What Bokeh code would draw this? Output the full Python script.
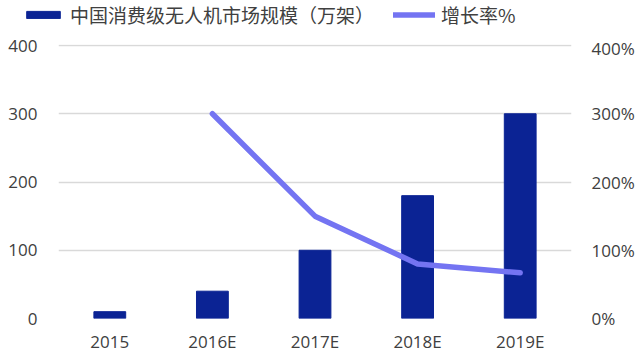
from bokeh.plotting import figure
from bokeh.layouts import column, row
from bokeh.models import (ColumnDataSource, Range1d, LinearAxis, FixedTicker,
                          NumeralTickFormatter, Legend, LegendItem)
from bokeh.embed import file_html
from bokeh.resources import INLINE

years = ["2015", "2016E", "2017E", "2018E", "2019E"]
market = [10, 40, 100, 180, 300]           # 万架
growth_years = ["2016E", "2017E", "2018E", "2019E"]
growth = [3.00, 1.50, 0.80, 0.67]           # 增长率 (fraction)
left_ticks = [0, 100, 200, 300, 400]
right_ticks = [0, 1, 2, 3, 4]

bar_label = "中国消费级无人机市场规模（万架）"
line_label = "增长率%"

BAR_COLOR = "#0b2394"
LINE_COLOR = "#7474f2"
TEXT_COLOR = "#404040"
GRID_COLOR = "#d9d9d9"
LINE_W = 5.5

bsrc = ColumnDataSource(dict(x=years, y=market))
lsrc = ColumnDataSource(dict(x=growth_years, y=growth))

# ---------------- main chart ----------------
p = figure(x_range=years, y_range=Range1d(0, 401.5), width=640, height=319,
           output_backend="svg", toolbar_location=None,
           min_border_left=58, min_border_right=69, min_border_top=8,
           min_border_bottom=36)
p.outline_line_color = None
p.background_fill_color = "white"
p.border_fill_color = "white"
p.extra_y_ranges = {"pct": Range1d(0, 4.015)}

p.vbar(x="x", top="y", width=0.31, source=bsrc, color=BAR_COLOR)
p.line(x="x", y="y", source=lsrc, y_range_name="pct",
       line_color=LINE_COLOR, line_width=LINE_W, line_cap="round",
       line_join="round")

rax = LinearAxis(y_range_name="pct", ticker=FixedTicker(ticks=right_ticks),
                 formatter=NumeralTickFormatter(format="0%"))
p.add_layout(rax, "right")

for ax in [p.xaxis[0], p.yaxis[0], rax]:
    ax.axis_line_color = None
    ax.major_tick_line_color = None
    ax.minor_tick_line_color = None
    ax.major_tick_out = 0
    ax.major_tick_in = 0
    ax.minor_tick_out = 0
    ax.minor_tick_in = 0
    ax.major_label_text_font = "Open Sans"
    ax.major_label_text_font_size = "17px"
    ax.major_label_text_color = TEXT_COLOR

p.yaxis[0].ticker = FixedTicker(ticks=left_ticks)
p.yaxis[0].major_label_standoff = 21
rax.major_label_standoff = 20
p.xaxis[0].major_label_standoff = 11
p.xgrid.grid_line_color = None
p.ygrid.grid_line_color = GRID_COLOR
p.ygrid.grid_line_width = 1.5
p.ygrid.ticker = FixedTicker(ticks=left_ticks)

# ---------------- legend strip ----------------
# same series in a range far above their values, so only the legend shows
lg = figure(width=640, height=36, x_range=years, y_range=Range1d(10000, 20000),
            output_backend="svg", toolbar_location=None,
            x_axis_location=None, y_axis_location=None,
            min_border_left=0, min_border_right=0, min_border_top=0,
            min_border_bottom=0)
lg.grid.visible = False
lg.outline_line_color = None
lg.background_fill_color = "white"
lg.border_fill_color = "white"
lb = lg.vbar(x="x", top="y", width=0.31, source=bsrc, color=BAR_COLOR)
ll = lg.line(x="x", y="y", source=lsrc, line_color=LINE_COLOR,
             line_width=LINE_W, line_cap="round")

legend = Legend(items=[LegendItem(label=bar_label, renderers=[lb]),
                       LegendItem(label=line_label, renderers=[ll])],
                orientation="horizontal", location=(22, 8))
legend.label_text_font = "Noto Sans CJK SC"
legend.label_text_font_size = "19px"
legend.label_text_color = TEXT_COLOR
legend.glyph_width = 42
legend.glyph_height = 9
legend.label_standoff = 6
legend.spacing = 19
legend.padding = 2
legend.margin = 0
legend.border_line_color = None
legend.background_fill_alpha = 0
lg.add_layout(legend, "center")

layout = column(row(lg, spacing=0), p, spacing=0)
open("out.html", "w").write(file_html(layout, INLINE))
